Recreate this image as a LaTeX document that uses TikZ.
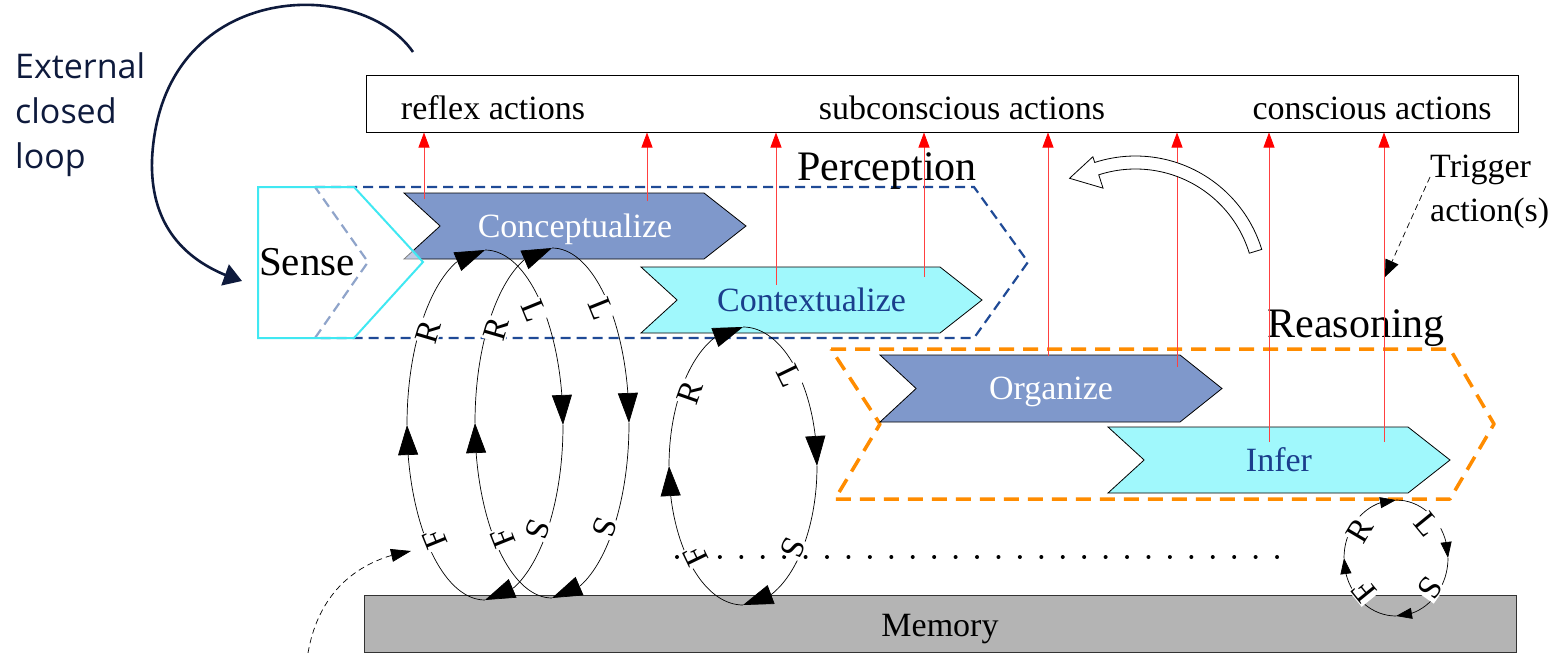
\documentclass[tikz,border=0pt]{standalone}
\usepackage{fontspec}
\setmainfont{Liberation Serif}
\newfontfamily\extfont{Open Sans}
\usetikzlibrary{calc,arrows.meta,bending}

\definecolor{concfill}{HTML}{7F98CB}
\definecolor{contfill}{HTML}{A0F8FC}
\definecolor{senseline}{HTML}{40E8F2}
\definecolor{percline}{HTML}{1F4A96}
\definecolor{reasline}{HTML}{FF8C00}
\definecolor{txtblue}{HTML}{1A3E8C}
\definecolor{memfill}{HTML}{B4B4B4}
\definecolor{navy}{HTML}{0E1A3C}

\begin{document}
\begin{tikzpicture}[x=1pt,y=-1pt,
 txt/.style={font=\fontsize{34}{44}\selectfont,inner sep=0pt},
 bigtxt/.style={font=\fontsize{42}{48}\selectfont,inner sep=0pt},
 conc/.style={draw=black,line width=0.8pt,fill=concfill},
 conc txt/.style={text=white},
 cont/.style={draw=black,line width=0.8pt,fill=contfill},
 cont txt/.style={text=txtblue},
 act/.style={draw=red!75,line width=0.8pt,-{Triangle[length=15pt,width=11pt,red]}},
 lbl/.style={font=\fontsize{33}{36}\selectfont,fill=white,inner sep=1pt,
   sloped,allow upside down,anchor=north,outer sep=-3pt},
 rlsfline/.style={line width=0.7pt},
 bighead/.style={-{Triangle[length=30pt,width=20pt]}},
 smallhead/.style={-{Triangle[length=16pt,width=11pt]}},
 thindash/.style={line width=0.7pt,dash pattern=on 6pt off 4pt}]

\useasboundingbox (0,0) rectangle (1558,653);

\def\tipd{42}

\newcommand{\chev}[7] % [style][name][text][left][right][top][bottom]
{
 \draw[#1] (#4,#6) -- ({#5-\tipd},#6) -- (#5,{(#6+#7)/2}) -- ({#5-\tipd},#7)
   -- (#4,#7) -- ({#4+0.86*\tipd},{(#6+#7)/2}) -- cycle;
 \node[txt,#1 txt,anchor=base] (#2) at ({(#4+#5)/2},{(#6+#7)/2+11}) {#3};
}

\newcommand{\rlsf}[5][bighead] % [head][cx][cy][rx][ry]
{
 \begin{scope}[shift={(#2,#3)}]
  \draw[rlsfline,#1] (-#4,0) arc[start angle=180,end angle=270,x radius=#4,y radius=#5]
    node[lbl,pos=.37]{R};
  \draw[rlsfline,#1] (0,-#5) arc[start angle=270,end angle=360,x radius=#4,y radius=#5]
    node[lbl,pos=.53]{L};
  \draw[rlsfline,#1] (#4,0) arc[start angle=0,end angle=90,x radius=#4,y radius=#5]
    node[lbl,pos=.42]{S};
  \draw[rlsfline,#1] (0,#5) arc[start angle=90,end angle=180,x radius=#4,y radius=#5]
    node[lbl,pos=.53]{F};
 \end{scope}
}

% actions
\node[draw,line width=1pt,minimum width=1152pt,minimum height=57pt,inner sep=0pt] (acts) at (942,103.5) {};
\node[txt,anchor=base] (reflex) at (493,119) {reflex actions};
\node[txt,anchor=base] (subcons) at (962,119) {subconscious actions};
\node[txt,anchor=base] (cons) at (1372,119) {conscious actions};

% perception
\draw[percline,line width=2.2pt,dash pattern=on 10pt off 6pt]
  (315,187) -- (974,187) -- (1028,262) -- (974,338) -- (315,338) -- (368,262) -- cycle;
\node[bigtxt,anchor=base] (percept) at (887,180) {Perception};

\chev{conc}{concept}{Conceptualize}{404}{746}{193}{259}
\chev{cont}{context}{Contextualize}{641}{982}{267}{333}

% sense
\draw[senseline,line width=2pt,fill=white,fill opacity=0.5]
  (258,187) -- (354,187) -- (423,262) -- (354,338) -- (258,338) -- cycle;
\node[font=\fontsize{41}{48}\selectfont,inner sep=0pt,anchor=base] (sense) at (307,275) {Sense};

% reasoning
\draw[reasline,line width=3.5pt,dash pattern=on 15pt off 9pt,line join=round]
  (831,349) -- (1450,349) -- (1494,424) -- (1450,499) -- (835,499) -- (880,424) -- cycle;
\node[bigtxt,anchor=base] (reason) at (1356,337) {Reasoning};

\chev{conc}{organize}{Organize}{880}{1222}{355}{422}
\chev{cont}{infer}{Infer}{1108}{1450}{427}{493}

% memory
\draw[fill=memfill,draw=black!80,line width=0.8pt] (364,595) rectangle (1516,652);
\node[txt,anchor=base] (mem) at (940,636) {Memory};

% triggers up to the actions
\foreach \x/\y in {424/199,647/201,776/285,924/277,1048/356,1177/367,1269/442,1384/442}
  \draw[act] (\x,\y) -- (\x,\y |- acts.south);

% turning arrow
\coordinate (bc) at (1135.5,288);
\draw[fill=white,line width=0.8pt]
  ($(bc)+(-17:132)$) arc[start angle=-17,end angle=-108,radius=132]
  -- ($(bc)+(-108:138)$) -- ($(bc)+(-121:128)$) -- ($(bc)+(-108:105)$)
  -- ($(bc)+(-108:119)$) arc[start angle=-108,end angle=-17,radius=119] -- cycle;

% trigger
\node[txt,anchor=north west,align=left] (trigger) at (1430,155) {Trigger\\action(s)};
\coordinate (trigtip) at (1385,277);
\draw[thindash,-{Triangle[length=17pt,width=14pt]}] ([yshift=-22pt]trigger.north west) -- (trigtip);

% dots
\foreach \i in {0,...,28}
  \fill ({677+21.43*\i},557) circle (2);

% loops
\rlsf{485}{425}{78}{175}
\rlsf{552}{423}{77}{175}
\rlsf{743}{466}{74}{139}
\rlsf[smallhead]{1396}{558}{52}{58}

% inflow
\coordinate (inflow) at (308,653);
\coordinate (inflowtip) at (411,551);
\draw[thindash,-{Triangle[length=20pt,width=13pt]}] (inflow) .. controls (318,595) and (355,560) .. (inflowtip);

% external loop
\node[font=\extfont\fontsize{34}{45}\selectfont,text=navy,anchor=north west,align=left,inner sep=0pt]
  (ext) at (15,52) {External\\closed\\loop};
\coordinate (extstart) at (413,52);
\coordinate (extend) at (242,281);
\draw[navy,line width=2.6pt,-{Triangle[length=18pt,width=22pt]}]
  (extstart) .. controls (360,-25) and (160,-20) .. (152,160)
  .. controls (150,230) and (190,265) .. (extend);

\end{tikzpicture}
\end{document}
